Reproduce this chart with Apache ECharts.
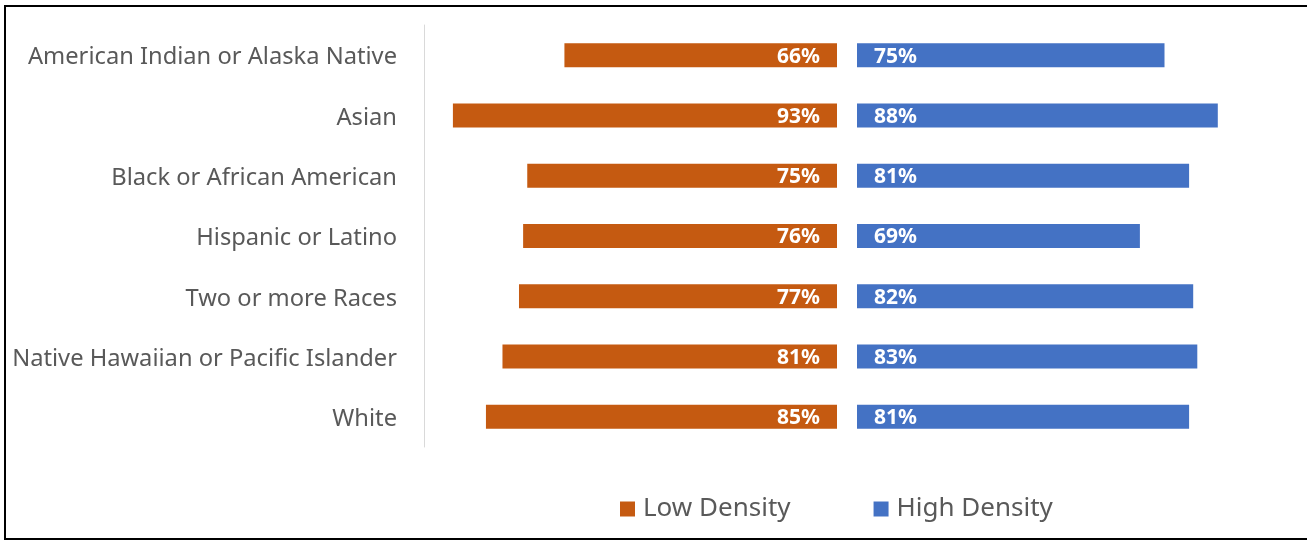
<!DOCTYPE html>
<html>
<head>
<meta charset="utf-8">
<script src="https://cdn.jsdelivr.net/npm/echarts@6/dist/echarts.min.js"></script>
<style>
html,body{margin:0;padding:0;width:1307px;height:540px;overflow:hidden;background:#fff;}
#frame{position:absolute;left:4px;top:5px;width:1320px;height:531px;border:2px solid #000;}
#chart{position:absolute;left:0;top:0;width:1307px;height:540px;}
</style>
</head>
<body>
<div id="frame"></div>
<div id="chart"></div>
<script>
const categories = ["American Indian or Alaska Native","Asian","Black or African American","Hispanic or Latino","Two or more Races","Native Hawaiian or Pacific Islander","White"];
const lowDensity = [66, 93, 75, 76, 77, 81, 85];
const highDensity = [75, 88, 81, 69, 82, 83, 81];
const seriesNames = ["Low Density", "High Density"];

const FONT = 'Noto Sans';
const chart = echarts.init(document.getElementById('chart'), null, {renderer:'canvas'});
const labelStyle = {
  show: true, color: '#fff', fontWeight: 'bold', fontSize: 21, fontFamily: FONT,
  formatter: p => p.value + '%', distance: 17, offset: [0, 1.5]
};
chart.setOption({
  animation: false,
  grid: [
    {left: 424, width: 413, top: 25, height: 422},
    {left: 857, width: 410, top: 25, height: 422}
  ],
  legend: {
    data: seriesNames, top: 491, left: 615, itemWidth: 15, itemHeight: 15, itemGap: 83,
    icon: 'rect',
    textStyle: {color: '#595959', fontSize: 26, fontFamily: FONT, padding: [0, 0, 0, 3]}
  },
  xAxis: [
    {type: 'value', gridIndex: 0, min: 0, max: 100, inverse: true, show: false},
    {type: 'value', gridIndex: 1, min: 0, max: 100, show: false}
  ],
  yAxis: [
    {type: 'category', gridIndex: 0, data: categories, inverse: true, position: 'left',
     axisLine: {show: true, onZero: false, lineStyle: {color: '#d9d9d9', width: 1}},
     axisTick: {show: false},
     axisLabel: {color: '#595959', fontSize: 23.7, fontFamily: FONT, margin: 27,
       formatter: v => '{a|' + v + '}',
       rich: {a: {color: '#595959', fontSize: 23.7, fontFamily: FONT, padding: [5, 0, 0, 0]}}}},
    {type: 'category', gridIndex: 1, data: categories, inverse: true, show: false}
  ],
  series: [
    {name: seriesNames[0], type: 'bar', xAxisIndex: 0, yAxisIndex: 0, data: lowDensity,
     barWidth: 24, itemStyle: {color: '#C55A11'},
     label: Object.assign({position: 'insideRight'}, labelStyle)},
    {name: seriesNames[1], type: 'bar', xAxisIndex: 1, yAxisIndex: 1, data: highDensity,
     barWidth: 24, itemStyle: {color: '#4472C4'},
     label: Object.assign({position: 'insideLeft'}, labelStyle)}
  ]
});
</script>
</body>
</html>
